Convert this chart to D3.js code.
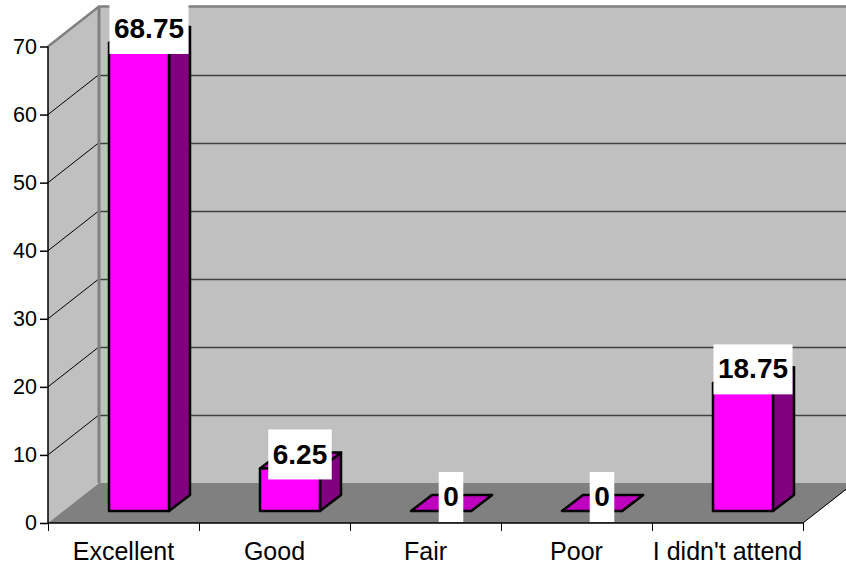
<!DOCTYPE html>
<html><head><meta charset="utf-8">
<script src="https://cdn.jsdelivr.net/npm/d3@7"></script>
<style>html,body{margin:0;padding:0;background:#fff;overflow:hidden}svg{display:block}text{font-family:"Liberation Sans",Arial,sans-serif;fill:#000}</style>
</head><body><svg id="c" width="846" height="569"></svg>
<script>
const categories = ["Excellent","Good","Fair","Poor","I didn't attend"];
const values = [68.75,6.25,0,0,18.75];
const labels = ["68.75","6.25","0","0","18.75"];
const ticks = [0,10,20,30,40,50,60,70];

const svg = d3.select("#c");
const x = d3.scaleBand().domain(categories).range([48,803]);
const y = d3.scaleLinear().domain([0,70]).range([523,46.5]);
const wallDx = 51, wallDy = -40, barDx = 21, barDy = -16, barLift = 12, barLeft = 61, barW = 60;
const poly = pts => pts.map(p=>p.join(",")).join(" ");
const W = 846;
const x0 = x.range()[0], x1 = x.range()[1], yB = y(0), yT = y(70);

// walls
svg.append("polygon").attr("points",poly([[x0,yB],[x0,yT],[x0+wallDx,yT+wallDy],[x0+wallDx,yB+wallDy]])).attr("fill","#c0c0c0");
svg.append("polygon").attr("points",poly([[x0+wallDx,yT+wallDy],[W,yT+wallDy],[W,yB+wallDy],[x0+wallDx,yB+wallDy]])).attr("fill","#c0c0c0");
// floor
svg.append("polygon").attr("points",poly([[x0,yB],[x0+wallDx,yB+wallDy],[W,yB+wallDy],[W,yB+wallDy+7],[x1,yB]])).attr("fill","#808080");
svg.append("line").attr("x1",x1).attr("y1",yB).attr("x2",W).attr("y2",yB-(W-x1)*40/51).attr("stroke","#000");

// gridlines
const gridTicks = ticks.filter(t=>t>0&&t<70);
svg.selectAll(".g1").data(gridTicks).join("line").attr("x1",x0).attr("y1",d=>y(d)).attr("x2",x0+wallDx).attr("y2",d=>y(d)+wallDy).attr("stroke","#000");
svg.selectAll(".g2").data(gridTicks).join("line").attr("x1",x0+wallDx).attr("y1",d=>Math.round(y(d)+wallDy)+.5).attr("x2",W).attr("y2",d=>Math.round(y(d)+wallDy)+.5).attr("stroke","#404040").attr("stroke-width",1.5);
// wall edges
const edge = svg.append("g").attr("stroke","#808080").attr("fill","none");
edge.append("path").attr("stroke-width",2.5).attr("d",`M${x0},${yT}L${x0+wallDx},${yT+wallDy}L${W},${yT+wallDy}`);
edge.append("line").attr("stroke-width",3).attr("x1",x0+wallDx).attr("x2",x0+wallDx).attr("y1",yT+wallDy).attr("y2",yB+wallDy);

// bars
const rows = categories.map((c,i)=>({c,v:values[i],l:labels[i]}));
const bars = svg.append("g").attr("stroke","#000").attr("stroke-width",2.5).attr("stroke-linejoin","round");
rows.forEach(r=>{
  const l = x(r.c)+barLeft, rgt = l+barW, b = yB-barLift, t = y(r.v)-barLift;
  bars.append("polygon").attr("points",poly([[rgt,b],[rgt,t],[rgt+barDx,t+barDy],[rgt+barDx,b+barDy]])).attr("fill","#800080");
  bars.append("polygon").attr("points",poly([[l,t],[l+barDx,t+barDy],[rgt+barDx,t+barDy],[rgt,t]])).attr("fill","#c000c0");
  bars.append("rect").attr("x",l).attr("y",t).attr("width",barW).attr("height",b-t).attr("fill","#ff00ff");
});

// axes
const yAxis = d3.axisLeft(y).tickValues(ticks).tickSize(8).tickPadding(3);
const xAxis = d3.axisBottom(x).tickSize(0).tickPadding(0);
const gy = svg.append("g").attr("transform",`translate(${x0},0)`).call(yAxis);
gy.select(".domain").attr("d",`M0,${yT}V${yB}`);
gy.selectAll("text").attr("font-size",21.5).attr("font-family",'"Liberation Sans"').attr("dy","0.32em");
const gx = svg.append("g").attr("transform",`translate(0,${yB})`).call(xAxis);
gx.select(".domain").attr("d",`M${x0},0H${x1}`);
gx.selectAll(".tick line").remove();
gx.selectAll("text").attr("font-size",25).attr("font-family",'"Liberation Sans"').attr("y",37).attr("dy",0);
svg.append("g").selectAll("line").data(x.domain().map(d=>x(d)).concat(x1)).join("line")
  .attr("x1",d=>Math.round(d)+.5).attr("x2",d=>Math.round(d)+.5).attr("y1",yB).attr("y2",yB+8).attr("stroke","#000");
svg.selectAll(".domain,.tick line").attr("stroke","#000").attr("stroke-width",1.5);

// data labels
const lg = svg.append("g");
rows.forEach(r=>{
  const cx = x(r.c)+barLeft+(barW+barDx)/2-0.5, bottom = y(r.v)-barLift+11;
  const box = lg.append("rect").attr("fill","#fff");
  const txt = lg.append("text").attr("x",cx).attr("y",bottom-26).attr("dy","0.36em").attr("text-anchor","middle")
    .attr("font-size",28).attr("font-weight","bold").text(r.l);
  const w = txt.node().getComputedTextLength()+9;
  box.attr("x",cx-w/2).attr("width",w).attr("y",bottom-50).attr("height",50);
});
</script></body></html>
